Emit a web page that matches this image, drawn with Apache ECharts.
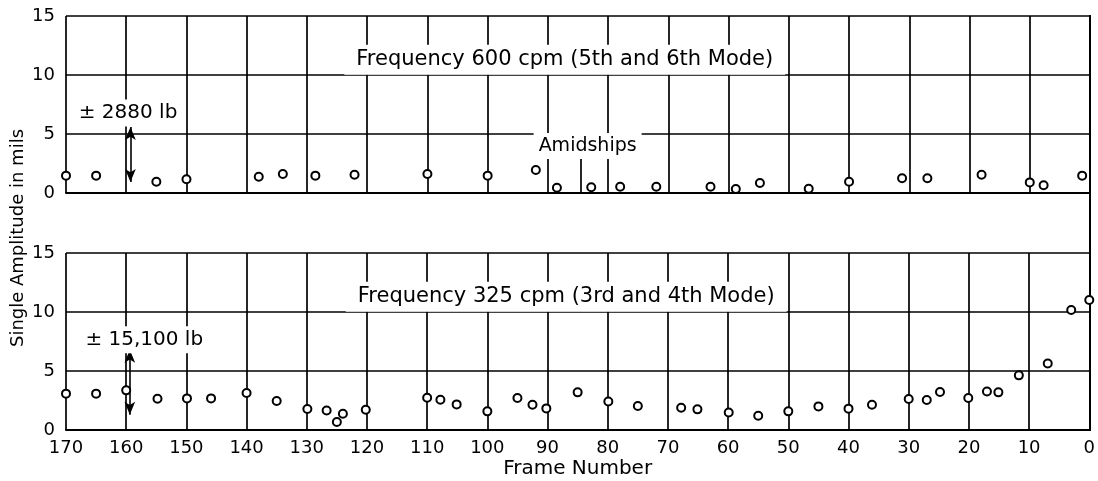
<!DOCTYPE html>
<html>
<head>
<meta charset="utf-8">
<script src="https://cdn.jsdelivr.net/npm/echarts@6/dist/echarts.min.js"></script>
<style>
  html, body { margin: 0; padding: 0; background: #fff; }
  #chart { width: 1098px; height: 481px; }
</style>
</head>
<body>
<div id="chart"></div>
<script>
// Frame numbers and single amplitudes (mils), 600 cpm (5th and 6th mode)
const frames600 = [170, 165, 155, 150, 138, 134, 128.6, 122.1, 110, 100, 92, 88.5, 82.8, 78, 72, 63, 58.8, 54.8, 46.7, 40, 31.2, 27, 18, 10, 7.7, 1.3];
const amp600 = [1.47, 1.47, 0.96, 1.16, 1.38, 1.61, 1.47, 1.55, 1.61, 1.47, 1.95, 0.45, 0.48, 0.53, 0.53, 0.53, 0.34, 0.85, 0.36, 0.96, 1.25, 1.25, 1.55, 0.9, 0.65, 1.47];

// Frame numbers and single amplitudes (mils), 325 cpm (3rd and 4th mode)
const frames325 = [170, 165, 160, 154.8, 149.9, 145.9, 140, 135, 129.9, 126.7, 125, 124, 120.2, 110, 107.8, 105.1, 100, 95, 92.5, 90.2, 85, 79.9, 75, 67.8, 65.1, 59.9, 55, 50, 45, 40, 36.1, 30, 27, 24.8, 20.1, 17, 15.1, 11.7, 6.9, 3, 0];
const amp325 = [3.08, 3.08, 3.36, 2.65, 2.68, 2.68, 3.14, 2.46, 1.78, 1.66, 0.68, 1.38, 1.72, 2.74, 2.57, 2.17, 1.58, 2.71, 2.14, 1.83, 3.19, 2.42, 2.03, 1.89, 1.75, 1.49, 1.21, 1.58, 2.0, 1.81, 2.14, 2.63, 2.54, 3.22, 2.71, 3.27, 3.19, 4.63, 5.64, 10.17, 11.02];

// Axis ranges and tick labels
const frameRange = [0, 170];
const ampRange = [0, 15];
const yTickLabels = ['0', '5', '10', '15'];

// Panel titles and force annotations
const title600 = 'Frequency 600 cpm (5th and 6th Mode)';
const title325 = 'Frequency 325 cpm (3rd and 4th Mode)';
const force600 = '\u00B1 2880 lb';
const force325 = '\u00B1 15,100 lb';
const amidshipsText = 'Amidships';

// Where the annotations sit, in frame / amplitude units
const title600At = [87.2, 11.3];
const title325At = [86.9, 11.3];
const amidshipsAt = [83.4, 3.98];
const amidshipsMark = [84.5, 0, 3.2];
const force600At = [159.7, 6.78];
const force325At = [157.0, 7.65];
const arrow600 = [159.3, 5.6, 0.93];
const arrow325 = [159.4, 6.8, 1.3];

const FONT = 'DejaVu Sans';
const INK = '#000';

const chart = echarts.init(document.getElementById('chart'), null, { renderer: 'canvas' });

function xAxisFor(gridIndex, withLabels) {
  return {
    type: 'value', gridIndex, min: frameRange[0], max: frameRange[1], interval: 10, inverse: true,
    axisLine: { show: true, lineStyle: { color: INK, width: 2 } },
    axisTick: { show: false },
    axisLabel: withLabels ? { show: true, color: INK, fontFamily: FONT, fontSize: 18, margin: 9 } : { show: false },
    splitLine: { show: true, lineStyle: { color: INK, width: 1.7 } },
    name: withLabels ? 'Frame Number' : '',
    nameLocation: 'middle', nameGap: 29,
    nameTextStyle: { color: INK, fontFamily: FONT, fontSize: 20 }
  };
}

function yAxisFor(gridIndex) {
  return {
    type: 'value', gridIndex, min: ampRange[0], max: ampRange[1], interval: 5,
    axisLine: { show: true, lineStyle: { color: INK, width: 2 } },
    axisTick: { show: false },
    axisLabel: {
      show: true, color: INK, fontFamily: FONT, fontSize: 18, margin: 11,
      formatter: v => yTickLabels[Math.round(v / 5)]
    },
    splitLine: { show: true, lineStyle: { color: INK, width: 1.7 } }
  };
}

function points(xs, ys) { return xs.map((x, i) => [x, ys[i]]); }

function boxLabel(text, fontSize, padding) {
  return {
    show: true, position: 'inside', formatter: text,
    color: INK, fontFamily: FONT, fontSize, lineHeight: fontSize + 1,
    textBorderWidth: 0, textShadowBlur: 0,
    backgroundColor: '#fff', padding
  };
}

function annotationSeries(xi, yi, items, lines) {
  return {
    type: 'scatter', xAxisIndex: xi, yAxisIndex: yi, silent: true, clip: false,
    symbolSize: 0, z: 5,
    itemStyle: { color: '#fff', opacity: 1 },
    emphasis: { disabled: true },
    data: items,
    markLine: {
      silent: true, animation: false,
      label: { show: false },
      data: lines
    }
  };
}

const dotStyle = {
  type: 'scatter', symbol: 'emptyCircle', symbolSize: 8, clip: false, z: 6,
  itemStyle: { color: INK, borderColor: INK, borderWidth: 2.2, opacity: 1 },
  emphasis: { disabled: true }
};

chart.setOption({
  animation: false,
  backgroundColor: '#fff',
  grid: [
    { left: 66, right: 8, top: 16, height: 177 },
    { left: 66, right: 8, top: 253, height: 177 },
    { left: 66, right: 8, top: 16, height: 414 }
  ],
  xAxis: [
    xAxisFor(0, false),
    xAxisFor(1, true),
    { type: 'value', gridIndex: 2, min: frameRange[0], max: frameRange[1], inverse: true, show: false }
  ],
  yAxis: [
    yAxisFor(0),
    yAxisFor(1),
    { type: 'value', gridIndex: 2, min: 0, max: 1, position: 'left',
      axisLine: { show: true, lineStyle: { color: INK, width: 2 } },
      axisTick: { show: false }, axisLabel: { show: false }, splitLine: { show: false } },
    { type: 'value', gridIndex: 2, min: 0, max: 1, position: 'right',
      axisLine: { show: true, lineStyle: { color: INK, width: 2 } },
      axisTick: { show: false }, axisLabel: { show: false }, splitLine: { show: false } }
  ],
  graphic: [{
    type: 'text', x: 18, y: 238, rotation: Math.PI / 2,
    style: {
      text: 'Single Amplitude in mils', fill: INK,
      font: '18px "DejaVu Sans"', align: 'center', verticalAlign: 'middle'
    }
  }],
  series: [
    annotationSeries(0, 0, [
      { value: title600At, label: boxLabel(title600, 21, [4, 12]) },
      { value: amidshipsAt, label: boxLabel(amidshipsText, 19, [3, 5]) },
      { value: force600At, label: boxLabel(force600, 20, [3, 3]) }
    ], [
      [
        { coord: [amidshipsMark[0], amidshipsMark[1]], symbol: 'none', lineStyle: { color: INK, width: 1.7, type: 'solid' } },
        { coord: [amidshipsMark[0], amidshipsMark[2]], symbol: 'none' }
      ],
      [
        { coord: [arrow600[0], arrow600[2]], symbol: 'arrow', symbolSize: [8, 13], lineStyle: { color: INK, width: 1.6, type: 'solid' } },
        { coord: [arrow600[0], arrow600[1]], symbol: 'arrow', symbolSize: [8, 13] }
      ]
    ]),
    annotationSeries(1, 1, [
      { value: title325At, label: boxLabel(title325, 21, [4, 12]) },
      { value: force325At, label: boxLabel(force325, 20, [3, 3]) }
    ], [
      [
        { coord: [arrow325[0], arrow325[2]], symbol: 'arrow', symbolSize: [8, 13], lineStyle: { color: INK, width: 1.6, type: 'solid' } },
        { coord: [arrow325[0], arrow325[1]], symbol: 'arrow', symbolSize: [8, 13] }
      ]
    ]),
    Object.assign({}, dotStyle, { name: '600 cpm', xAxisIndex: 0, yAxisIndex: 0, data: points(frames600, amp600) }),
    Object.assign({}, dotStyle, { name: '325 cpm', xAxisIndex: 1, yAxisIndex: 1, data: points(frames325, amp325) })
  ]
});
</script>
</body>
</html>
